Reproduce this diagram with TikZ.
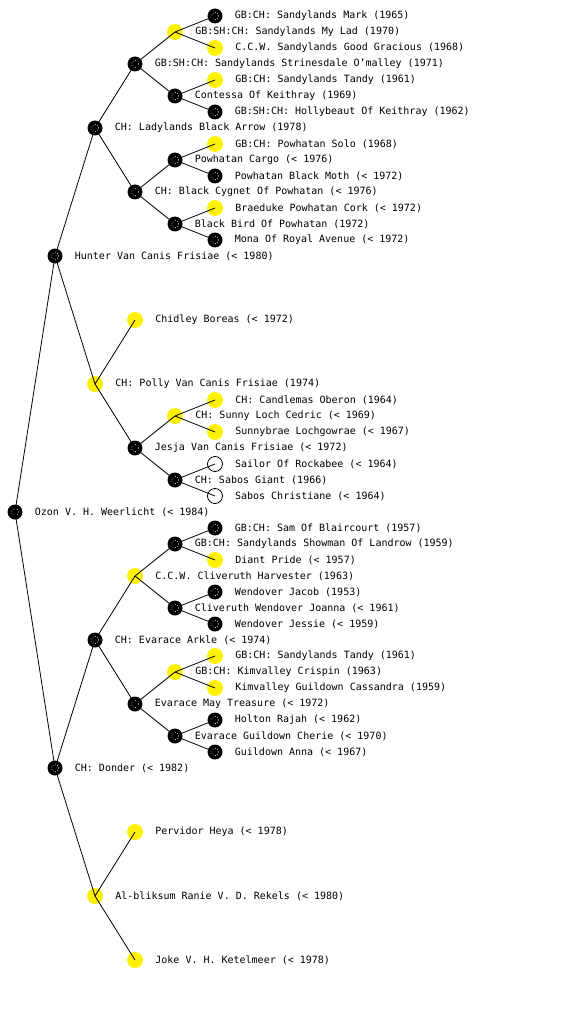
\documentclass[tikz,border=0pt]{standalone}
\usepackage{fontspec}
\usetikzlibrary{positioning}
\newfontfamily\pedfont{DejaVu Sans Mono}

\begin{document}
\begin{tikzpicture}[x=1pt,y=-1pt,every node/.style={font=\pedfont\fontsize{10}{12}\selectfont},
  dog/.style={circle,minimum size=16pt,inner sep=0pt},
  blk/.style={dog,minimum size=15pt,fill=black,path picture={\draw[white,line width=0.6pt,dash pattern=on 0.6pt off 1.8pt] (path picture bounding box.center) circle (3.6pt);}},
  ylw/.style={dog,fill=yellow,path picture={\draw[yellow!75!black,line width=0.4pt,dash pattern=on 0.5pt off 2.2pt] (path picture bounding box.center) circle (3.6pt);}},
  wht/.style={dog,minimum size=15pt,draw,line width=0.8pt},
  lbl/.style={inner sep=0pt,anchor=west}]
\useasboundingbox (0,0) rectangle (560,1024);
% generation 0 and 1
\node[blk] (ozon) at (15,512) {}; \node[lbl,right=12pt of ozon] {Ozon V. H. Weerlicht (< 1984)};
\node[blk] (hunter) at (55,256) {}; \node[lbl,right=12pt of hunter] {Hunter Van Canis Frisiae (< 1980)};
\node[blk] (donder) at (55,768) {}; \node[lbl,right=12pt of donder] {CH: Donder (< 1982)};
% generation 2
\node[blk] (ladylands) at (95,128) {}; \node[lbl,right=12pt of ladylands] {CH: Ladylands Black Arrow (1978)};
\node[ylw] (polly) at (95,384) {}; \node[lbl,right=12pt of polly] {CH: Polly Van Canis Frisiae (1974)};
\node[blk] (arkle) at (95,640) {}; \node[lbl,right=12pt of arkle] {CH: Evarace Arkle (< 1974)};
\node[ylw] (ranie) at (95,896) {}; \node[lbl,right=12pt of ranie] {Al-bliksum Ranie V. D. Rekels (< 1980)};
% generation 3
\node[blk] (strinesdale) at (135,64) {}; \node[lbl,right=12pt of strinesdale] {GB:SH:CH: Sandylands Strinesdale O’malley (1971)};
\node[blk] (cygnet) at (135,192) {}; \node[lbl,right=12pt of cygnet] {CH: Black Cygnet Of Powhatan (< 1976)};
\node[ylw] (chidley) at (135,320) {}; \node[lbl,right=12pt of chidley] {Chidley Boreas (< 1972)};
\node[blk] (jesja) at (135,448) {}; \node[lbl,right=12pt of jesja] {Jesja Van Canis Frisiae (< 1972)};
\node[ylw] (harvester) at (135,576) {}; \node[lbl,right=12pt of harvester] {C.C.W. Cliveruth Harvester (1963)};
\node[blk] (maytreasure) at (135,704) {}; \node[lbl,right=12pt of maytreasure] {Evarace May Treasure (< 1972)};
\node[ylw] (pervidor) at (135,832) {}; \node[lbl,right=12pt of pervidor] {Pervidor Heya (< 1978)};
\node[ylw] (joke) at (135,960) {}; \node[lbl,right=12pt of joke] {Joke V. H. Ketelmeer (< 1978)};
% generation 4
\node[ylw] (mylad) at (175,32) {}; \node[lbl,right=12pt of mylad] {GB:SH:CH: Sandylands My Lad (1970)};
\node[blk] (contessa) at (175,96) {}; \node[lbl,right=12pt of contessa] {Contessa Of Keithray (1969)};
\node[blk] (cargo) at (175,160) {}; \node[lbl,right=12pt of cargo] {Powhatan Cargo (< 1976)};
\node[blk] (blackbird) at (175,224) {}; \node[lbl,right=12pt of blackbird] {Black Bird Of Powhatan (1972)};
\node[ylw] (sunnyloch) at (175,416) {}; \node[lbl,right=12pt of sunnyloch] {CH: Sunny Loch Cedric (< 1969)};
\node[blk] (sabosgiant) at (175,480) {}; \node[lbl,right=12pt of sabosgiant] {CH: Sabos Giant (1966)};
\node[blk] (showman) at (175,544) {}; \node[lbl,right=12pt of showman] {GB:CH: Sandylands Showman Of Landrow (1959)};
\node[blk] (joanna) at (175,608) {}; \node[lbl,right=12pt of joanna] {Cliveruth Wendover Joanna (< 1961)};
\node[ylw] (crispin) at (175,672) {}; \node[lbl,right=12pt of crispin] {GB:CH: Kimvalley Crispin (1963)};
\node[blk] (cherie) at (175,736) {}; \node[lbl,right=12pt of cherie] {Evarace Guildown Cherie (< 1970)};
% generation 5
\node[blk] (mark) at (215,16) {}; \node[lbl,right=12pt of mark] {GB:CH: Sandylands Mark (1965)};
\node[ylw] (gracious) at (215,48) {}; \node[lbl,right=12pt of gracious] {C.C.W. Sandylands Good Gracious (1968)};
\node[ylw] (tandy) at (215,80) {}; \node[lbl,right=12pt of tandy] {GB:CH: Sandylands Tandy (1961)};
\node[blk] (hollybeaut) at (215,112) {}; \node[lbl,right=12pt of hollybeaut] {GB:SH:CH: Hollybeaut Of Keithray (1962)};
\node[ylw] (solo) at (215,144) {}; \node[lbl,right=12pt of solo] {GB:CH: Powhatan Solo (1968)};
\node[blk] (blackmoth) at (215,176) {}; \node[lbl,right=12pt of blackmoth] {Powhatan Black Moth (< 1972)};
\node[ylw] (braeduke) at (215,208) {}; \node[lbl,right=12pt of braeduke] {Braeduke Powhatan Cork (< 1972)};
\node[blk] (mona) at (215,240) {}; \node[lbl,right=12pt of mona] {Mona Of Royal Avenue (< 1972)};
\node[ylw] (candlemas) at (215,400) {}; \node[lbl,right=12pt of candlemas] {CH: Candlemas Oberon (1964)};
\node[ylw] (sunnybrae) at (215,432) {}; \node[lbl,right=12pt of sunnybrae] {Sunnybrae Lochgowrae (< 1967)};
\node[wht] (sailor) at (215,464) {}; \node[lbl,right=12pt of sailor] {Sailor Of Rockabee (< 1964)};
\node[wht] (christiane) at (215,496) {}; \node[lbl,right=12pt of christiane] {Sabos Christiane (< 1964)};
\node[blk] (sam) at (215,528) {}; \node[lbl,right=12pt of sam] {GB:CH: Sam Of Blaircourt (1957)};
\node[ylw] (diant) at (215,560) {}; \node[lbl,right=12pt of diant] {Diant Pride (< 1957)};
\node[blk] (jacob) at (215,592) {}; \node[lbl,right=12pt of jacob] {Wendover Jacob (1953)};
\node[blk] (jessie) at (215,624) {}; \node[lbl,right=12pt of jessie] {Wendover Jessie (< 1959)};
\node[ylw] (tandyb) at (215,656) {}; \node[lbl,right=12pt of tandyb] {GB:CH: Sandylands Tandy (1961)};
\node[ylw] (cassandra) at (215,688) {}; \node[lbl,right=12pt of cassandra] {Kimvalley Guildown Cassandra (1959)};
\node[blk] (holton) at (215,720) {}; \node[lbl,right=12pt of holton] {Holton Rajah (< 1962)};
\node[blk] (anna) at (215,752) {}; \node[lbl,right=12pt of anna] {Guildown Anna (< 1967)};
% parent links, over the dots
\foreach \a/\b in {ozon/hunter,ozon/donder,hunter/ladylands,hunter/polly,donder/arkle,donder/ranie,
  ladylands/strinesdale,ladylands/cygnet,polly/chidley,polly/jesja,arkle/harvester,arkle/maytreasure,ranie/pervidor,ranie/joke,
  strinesdale/mylad,strinesdale/contessa,cygnet/cargo,cygnet/blackbird,jesja/sunnyloch,jesja/sabosgiant,
  harvester/showman,harvester/joanna,maytreasure/crispin,maytreasure/cherie,
  mylad/mark,mylad/gracious,contessa/tandy,contessa/hollybeaut,cargo/solo,cargo/blackmoth,blackbird/braeduke,blackbird/mona,
  sunnyloch/candlemas,sunnyloch/sunnybrae,sabosgiant/sailor,sabosgiant/christiane,showman/sam,showman/diant,
  joanna/jacob,joanna/jessie,crispin/tandyb,crispin/cassandra,cherie/holton,cherie/anna}
  \draw[line width=0.8pt] (\a.center) -- (\b.center);
\end{tikzpicture}
\end{document}
